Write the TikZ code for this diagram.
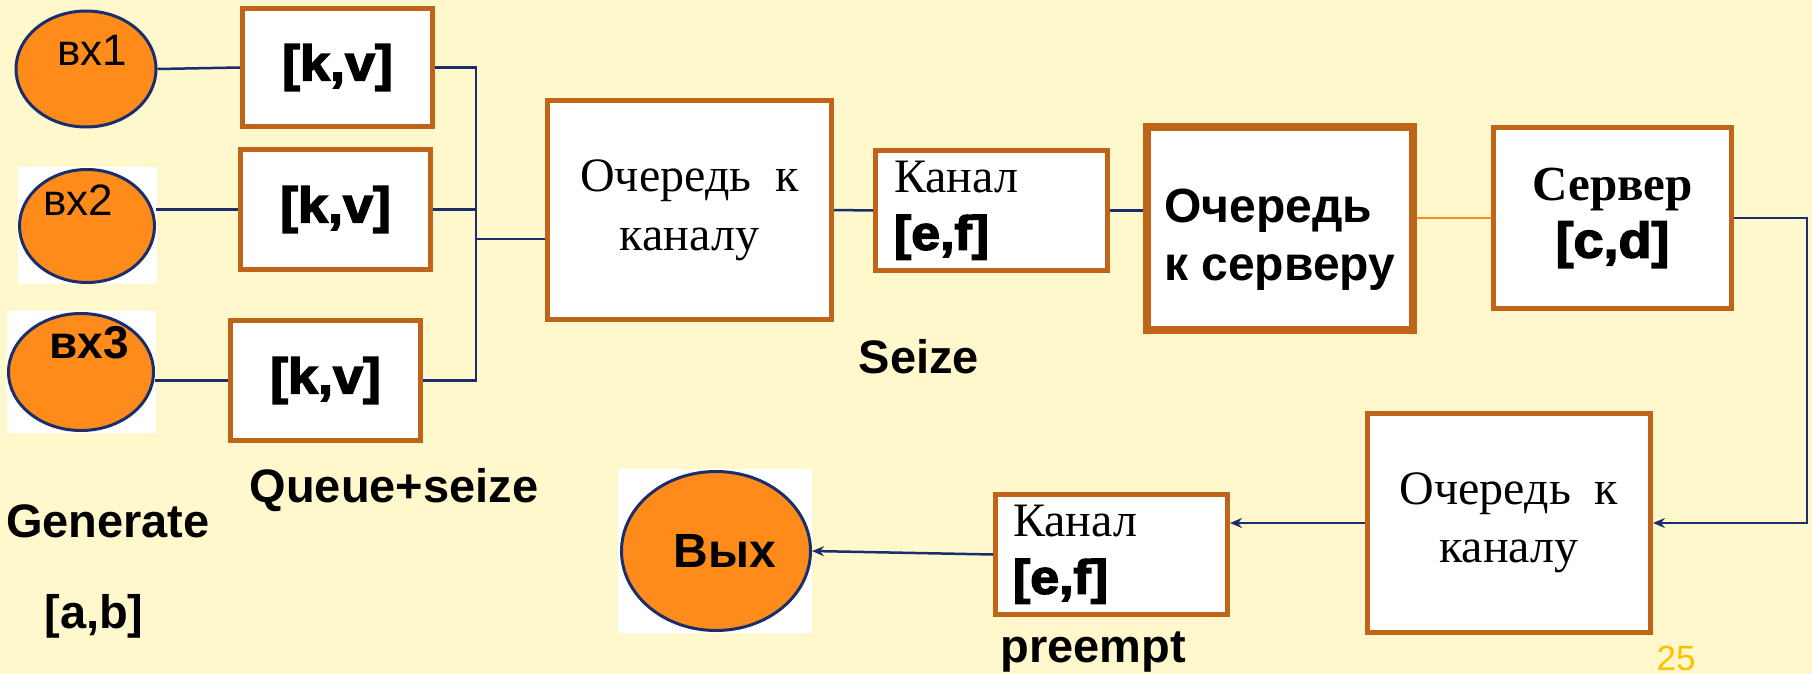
\documentclass[tikz,border=0pt]{standalone}
\usepackage{fontspec}
\setmainfont{Liberation Serif}
\setsansfont{Liberation Sans}
\newfontfamily\heavyfont[FakeBold=3, FakeStretch=1.08]{Liberation Sans Bold}
\usetikzlibrary{shapes.geometric}
\usetikzlibrary{arrows.meta}

\definecolor{slidebg}{HTML}{FFF8CC}
\definecolor{boxedge}{HTML}{BF6418}
\definecolor{srcfill}{HTML}{FF8C1A}
\definecolor{linkblue}{HTML}{1A2E6B}
\definecolor{pagenum}{HTML}{FFC000}

\newcommand\heavysize{\heavyfont\fontsize{50}{58}\selectfont}

\tikzset{
  blockbox/.style={draw=boxedge, line width=5pt, fill=white, inner sep=0pt},
  srcnode/.style={ellipse, draw=linkblue, line width=3pt, fill=srcfill, inner sep=0pt},
  link/.style={draw=linkblue, line width=2.5pt},
  tip/.style={-{Stealth[length=12pt, width=10pt, inset=4pt]}},
  tag/.style={font=\sffamily\bfseries\fontsize{47}{56}\selectfont, inner sep=0pt},
}

\begin{document}
\begin{tikzpicture}[x=1pt, y=-1pt]
    \useasboundingbox (0,0) rectangle (1812,674);
    \fill[slidebg] (0,0) rectangle (1812,674);

    % White patches behind the pasted ellipses
    \fill[white] (18,167) rectangle (157,284);
    \fill[white] (7,311) rectangle (156,433);
    \fill[white] (618,469) rectangle (812,633);

    % Drawing sources
    \node[srcnode, minimum width=140pt, minimum height=116pt] (vx1) at (86,69) {};
    \node[srcnode, minimum width=135pt, minimum height=113pt] (vx2) at (87,226) {};
    \node[srcnode, minimum width=145pt, minimum height=117pt] (vx3) at (81,372) {};
    \node[font=\sffamily\fontsize{44}{50}\selectfont, inner sep=0pt] (vx1txt) at (92,50) {вх1};
    \node[font=\sffamily\fontsize{44}{50}\selectfont, inner sep=0pt] (vx2txt) at (78,200) {вх2};
    \node[font=\sffamily\bfseries\fontsize{46}{50}\selectfont, inner sep=0pt] (vx3txt) at (89,343) {вх3};

    % Drawing queue+seize blocks
    \node[blockbox, minimum width=190pt, minimum height=118pt, font=\heavysize] (kv1) at (337.5,67.5) {[k,v]};
    \node[blockbox, minimum width=190pt, minimum height=120pt, font=\heavysize] (kv2) at (335.5,209.5) {[k,v]};
    \node[blockbox, minimum width=190pt, minimum height=120pt, font=\heavysize] (kv3) at (325.5,380.5) {[k,v]};

    % Drawing upper chain
    \node[blockbox, minimum width=284pt, minimum height=219pt, align=center,
          font=\fontsize{48}{59}\selectfont] (q1) at (689.5,210) {Очередь\ \ к\\каналу};
    \node[blockbox, minimum width=232pt, minimum height=120pt, text width=195pt, align=left,
          font=\fontsize{48}{57}\selectfont] (k1) at (991.5,210.5) {Канал\\{\heavyfont\fontsize{48}{57}\selectfont[e,f]}};
    \node[blockbox, line width=8pt, minimum width=266pt, minimum height=203pt] (qs) at (1280,228.5) {};
    \node[anchor=west, align=left, inner sep=0pt,
          font=\sffamily\bfseries\fontsize{48}{58}\selectfont] (qstxt) at (1164,240) {Очередь\\к серверу};
    \node[blockbox, minimum width=238pt, minimum height=181pt, align=center,
          font=\bfseries\fontsize{49}{57}\selectfont] (srv) at (1612.5,218) {Сервер\\{\heavysize[c,d]}};

    % Drawing lower chain
    \node[blockbox, minimum width=283pt, minimum height=219pt, align=center,
          font=\fontsize{48}{58}\selectfont] (q2) at (1509,523) {Очередь\ \ к\\каналу};
    \node[blockbox, minimum width=232pt, minimum height=120pt, text width=197pt, align=left,
          font=\fontsize{48}{57}\selectfont] (k2) at (1111.5,554.5) {Канал\\{\heavyfont\fontsize{48}{57}\selectfont[e,f]}};
    \node[srcnode, minimum width=189pt, minimum height=159pt] (out) at (716,551) {};
    \node[font=\sffamily\bfseries\fontsize{48}{50}\selectfont, inner sep=0pt] (outtxt) at (725,551) {Вых};

    % Connectors
    \coordinate (bus) at (476,239);
    \coordinate (turn) at (1807,218);
    \draw[link] (vx1.east) -- (kv1.west);
    \draw[link] (kv2.west) -- (kv2.west -| vx2.east);
    \draw[link] (kv3.west) -- (kv3.west -| vx3.east);
    \draw[link] (kv1.east) -| (bus) |- (kv3.east);
    \draw[link] (kv2.east) -- (kv2.east -| bus);
    \draw[link] (bus) -- (bus -| q1.west);
    \draw[link] (q1.east) -- (k1.west);
    \draw[link] (k1.east) -- (k1.east -| qs.west);
    \draw[link, draw=srcfill] (srv.west -| qs.east) -- (srv.west);
    \draw[link, tip] (srv.east) -- (turn) |- (q2.east);
    \draw[link, tip] (q2.west) -- (q2.west -| k2.east);
    \draw[link, tip] (k2.west) -- (out.east);

    % Block names
    \node[tag, anchor=east] (gen) at (210,521) {Generate};
    \node[tag] (genpar) at (94,616) {[a,b]};
    \node[tag] (qslbl) at (394,490) {Queue+seize};
    \node[tag] (seizelbl) at (919,357) {Seize};
    \node[tag] (preemptlbl) at (1093,652) {preempt};
    \node[font=\sffamily\fontsize{35}{40}\selectfont, text=pagenum, inner sep=0pt] (pgno) at (1676,658) {25};
\end{tikzpicture}
\end{document}
